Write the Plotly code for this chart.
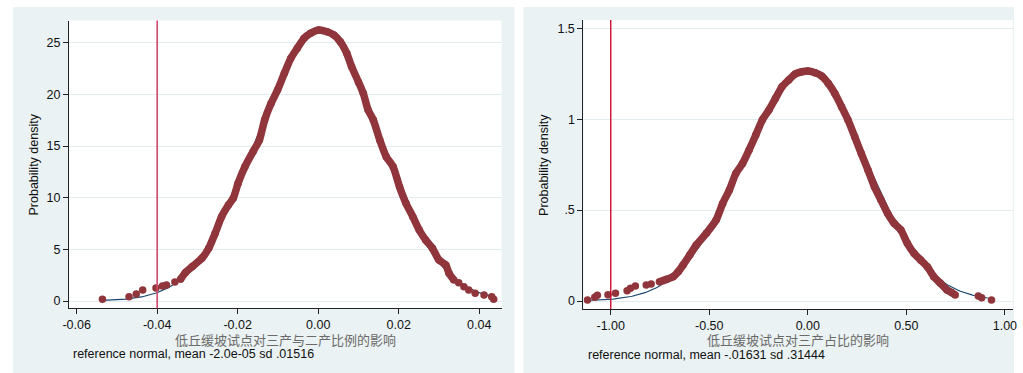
import numpy as np
import plotly.graph_objects as go

# ---------------- data: left panel ----------------
left_kde_x = [-0.0536, -0.0470, -0.0452, -0.0436, -0.0403, -0.0387, -0.0377, -0.0356,
              -0.0342, -0.0330, -0.0313, -0.0289, -0.0272, -0.0256, -0.0240, -0.0223,
              -0.0211, -0.0199, -0.0182, -0.0162, -0.0146, -0.0133, -0.0117, -0.0101,
              -0.0084, -0.0068, -0.0052, -0.0035, -0.0019, 0.0002, 0.0022, 0.0039,
              0.0055, 0.0071, 0.0083, 0.0100, 0.0112, 0.0124, 0.0137, 0.0153,
              0.0169, 0.0186, 0.0202, 0.0218, 0.0235, 0.0251, 0.0267, 0.0284,
              0.0300, 0.0317, 0.0325, 0.0337, 0.0349, 0.0362, 0.0374, 0.0390,
              0.0412, 0.0431, 0.0436]
left_kde_y = [0.16, 0.42, 0.68, 1.06, 1.26, 1.45, 1.55, 1.84,
              2.10, 2.74, 3.32, 4.13, 5.10, 6.55, 8.16, 9.29,
              9.94, 11.39, 13.00, 14.45, 15.58, 17.52, 19.13, 20.42,
              22.04, 23.49, 24.46, 25.43, 25.91, 26.23, 26.06, 25.74,
              25.10, 23.97, 22.68, 21.20, 20.10, 18.49, 17.52, 15.58,
              13.97, 13.00, 11.06, 9.46, 8.16, 6.87, 5.90, 5.10,
              3.97, 3.48, 2.68, 2.03, 1.77, 1.38, 1.06, 0.74,
              0.58, 0.42, 0.16]
left_mean = -2.0e-05
left_sd = 0.01516
left_xline = -0.04
left_dense = (-0.0345, 0.0340)
left_xticks = [-0.06, -0.04, -0.02, 0.0, 0.02, 0.04]
left_xticklabels = ["-0.06", "-0.04", "-0.02", "0.00", "0.02", "0.04"]
left_yticks = [0, 5, 10, 15, 20, 25]
left_yticklabels = ["0", "5", "10", "15", "20", "25"]
left_title = "低丘缓坡试点对三产与二产比例的影响"
left_note = "reference normal, mean -2.0e-05 sd .01516"

# ---------------- data: right panel ----------------
right_kde_x = [-1.118, -1.081, -1.068, -1.014, -0.976, -0.917, -0.900, -0.875,
               -0.820, -0.795, -0.753, -0.716, -0.683, -0.658, -0.633, -0.599,
               -0.566, -0.515, -0.465, -0.432, -0.398, -0.365, -0.331, -0.298,
               -0.264, -0.231, -0.197, -0.164, -0.131, -0.097, -0.064, -0.030,
               0.000, 0.037, 0.070, 0.104, 0.137, 0.171, 0.204, 0.238,
               0.271, 0.305, 0.338, 0.371, 0.405, 0.438, 0.472, 0.505,
               0.539, 0.572, 0.606, 0.639, 0.673, 0.706, 0.731, 0.748,
               0.865, 0.882, 0.932]
right_kde_y = [0.0055, 0.020, 0.031, 0.035, 0.042, 0.057, 0.070, 0.083,
               0.088, 0.094, 0.106, 0.119, 0.134, 0.161, 0.198, 0.253,
               0.308, 0.372, 0.446, 0.537, 0.611, 0.702, 0.757, 0.831,
               0.913, 0.996, 1.051, 1.115, 1.179, 1.216, 1.249, 1.261,
               1.265, 1.256, 1.238, 1.197, 1.142, 1.069, 0.996, 0.904,
               0.812, 0.721, 0.629, 0.556, 0.482, 0.427, 0.391, 0.317,
               0.262, 0.226, 0.189, 0.134, 0.097, 0.061, 0.046, 0.033,
               0.0275, 0.018, 0.0055]
right_mean = -0.01631
right_sd = 0.31444
right_xline = -1.0
right_dense = (-0.76, 0.75)
right_xticks = [-1.0, -0.5, 0.0, 0.5, 1.0]
right_xticklabels = ["-1.00", "-0.50", "0.00", "0.50", "1.00"]
right_yticks = [0, 0.5, 1, 1.5]
right_yticklabels = ["0", ".5", "1", "1.5"]
right_title = "低丘缓坡试点对三产占比的影响"
right_note = "reference normal, mean -.01631 sd .31444"

# ---------------- styling ----------------
W, H = 1023, 373
MAROON = "#90353B"
NAVY = "#1A476F"
GRID = "#E3ECEE"
PANEL = "#EAF2F3"
FONT = "Liberation Sans, Arial, sans-serif"
CJK = "Noto Sans CJK SC, sans-serif"

# plot-area boxes in pixels (left, top, right, bottom)
LBOX = (62.7, 20.5, 500.0, 308.3)
RBOX = (582.7, 20.0, 1016.7, 309.0)


def px(x):
    return x / W


def py(y):
    return 1 - y / H


fig = go.Figure()


def add_panel(kx, ky, mean, sd, dense, xref, yref):
    kx = np.asarray(kx)
    ky = np.asarray(ky)
    nx = np.linspace(kx.min(), kx.max(), 300)
    ny = np.exp(-0.5 * ((nx - mean) / sd) ** 2) / (sd * np.sqrt(2 * np.pi))
    fig.add_trace(go.Scatter(x=nx, y=ny, mode="lines", line=dict(color=NAVY, width=1.2),
                             xaxis=xref, yaxis=yref, showlegend=False, hoverinfo="skip"))
    m = (kx >= dense[0]) & (kx <= dense[1])
    fig.add_trace(go.Scatter(x=kx[m], y=ky[m], mode="lines",
                             line=dict(color=MAROON, width=7.5, shape="spline", smoothing=0.6),
                             xaxis=xref, yaxis=yref, showlegend=False, hoverinfo="skip"))
    fig.add_trace(go.Scatter(x=kx, y=ky, mode="markers",
                             marker=dict(color=MAROON, size=7.5, line=dict(width=0)),
                             xaxis=xref, yaxis=yref, showlegend=False))


add_panel(left_kde_x, left_kde_y, left_mean, left_sd, left_dense, "x", "y")
add_panel(right_kde_x, right_kde_y, right_mean, right_sd, right_dense, "x2", "y2")

axis_common = dict(showline=True, linecolor="#222222", linewidth=1.2, ticks="outside",
                   ticklen=5, tickwidth=1, tickcolor="#222222", zeroline=False,
                   tickfont=dict(family=FONT, size=12.5, color="#111111"))

fig.update_layout(
    width=W, height=H, margin=dict(l=0, r=0, t=0, b=0),
    paper_bgcolor="white", plot_bgcolor="white",
    xaxis=dict(domain=[px(LBOX[0]), px(LBOX[2])], range=[-0.0619, 0.04557], anchor="y",
               tickvals=left_xticks, ticktext=left_xticklabels, showgrid=False, **axis_common),
    yaxis=dict(domain=[py(LBOX[3]), py(LBOX[1])], range=[-0.707, 27.15], anchor="x",
               tickvals=left_yticks, ticktext=left_yticklabels, showgrid=True,
               gridcolor=GRID, gridwidth=1, **axis_common),
    xaxis2=dict(domain=[px(RBOX[0]), px(RBOX[2])], range=[-1.1386, 1.040], anchor="y2",
                tickvals=right_xticks, ticktext=right_xticklabels, showgrid=False, **axis_common),
    yaxis2=dict(domain=[py(RBOX[3]), py(RBOX[1])], range=[-0.044, 1.5457], anchor="x2",
                tickvals=right_yticks, ticktext=right_yticklabels, showgrid=True,
                gridcolor=GRID, gridwidth=1, **axis_common),
)

shapes = [
    dict(type="rect", xref="paper", yref="paper", x0=px(6), x1=px(513), y0=0, y1=py(7),
         fillcolor=PANEL, line=dict(width=0), layer="below"),
    dict(type="rect", xref="paper", yref="paper", x0=px(522), x1=px(1018), y0=0, y1=py(7),
         fillcolor=PANEL, line=dict(width=0), layer="below"),
    dict(type="rect", xref="paper", yref="paper", x0=px(LBOX[0]), x1=px(LBOX[2]),
         y0=py(LBOX[3]), y1=py(LBOX[1]), fillcolor="white", line=dict(width=0), layer="below"),
    dict(type="rect", xref="paper", yref="paper", x0=px(RBOX[0]), x1=px(RBOX[2]),
         y0=py(RBOX[3]), y1=py(RBOX[1]), fillcolor="white", line=dict(width=0), layer="below"),
    dict(type="line", xref="x", yref="y domain", x0=left_xline, x1=left_xline, y0=0, y1=1,
         line=dict(color="#D2496A", width=1.6), layer="above"),
    dict(type="line", xref="x2", yref="y2 domain", x0=right_xline, x1=right_xline, y0=0, y1=1,
         line=dict(color="#C8102E", width=1.4), layer="above"),
]
fig.update_layout(shapes=shapes)

ann = []
for xc, yc, txt in [(28.3, 164.5, "Probability density"), (543.3, 164.5, "Probability density")]:
    ann.append(dict(x=px(xc), y=py(yc), xref="paper", yref="paper", text=txt, showarrow=False,
                    textangle=-90, font=dict(family=FONT, size=12.5, color="#111111"),
                    xanchor="center", yanchor="middle"))
for xc, yc, txt in [(281.5, 339, left_title), (799.5, 339, right_title)]:
    ann.append(dict(x=px(xc), y=py(yc), xref="paper", yref="paper", text=txt, showarrow=False,
                    font=dict(family=CJK, size=13, color="#6A6A6A"),
                    xanchor="center", yanchor="middle"))
for xl, yc, txt in [(65, 354, left_note), (585, 354.5, right_note)]:
    ann.append(dict(x=px(xl), y=py(yc), xref="paper", yref="paper", text=txt, showarrow=False,
                    font=dict(family=FONT, size=12.5, color="#111111"),
                    xanchor="left", yanchor="middle"))
fig.update_layout(annotations=ann)

fig.write_html("out.html", config={"displayModeBar": False},
               post_script="document.body.style.margin='0';document.body.style.overflow='hidden';")
